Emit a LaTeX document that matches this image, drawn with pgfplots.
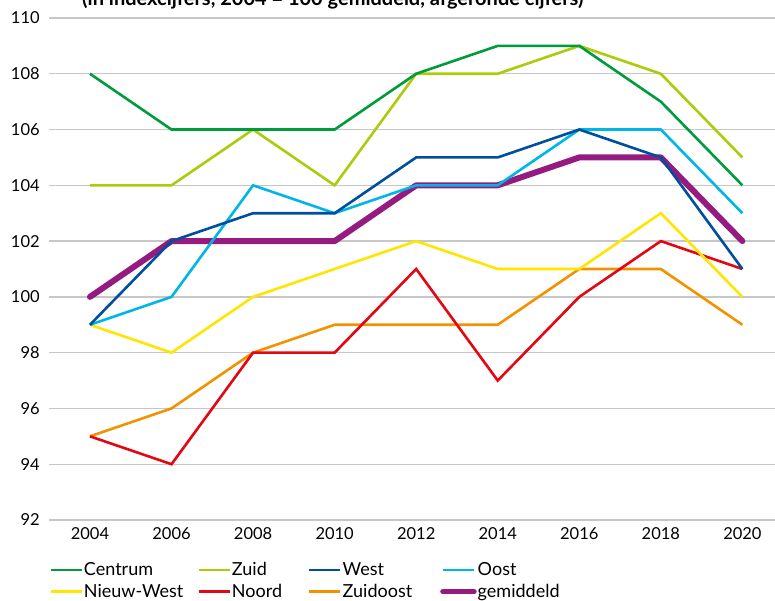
\documentclass[border=0pt]{standalone}
\usepackage{fontspec}
\setmainfont{Lato}
\usepackage{pgfplots}
\pgfplotsset{compat=1.18}
\definecolor{cCentrum}{RGB}{0,155,58}
\definecolor{cZuid}{RGB}{175,202,11}
\definecolor{cWest}{RGB}{0,79,159}
\definecolor{cOost}{RGB}{0,181,232}
\definecolor{cNW}{RGB}{255,229,0}
\definecolor{cNoord}{RGB}{227,6,19}
\definecolor{cZO}{RGB}{243,146,0}
\definecolor{cGem}{RGB}{149,27,129}
\begin{document}
\begin{tikzpicture}[x=1bp,y=1bp]
\fontsize{16bp}{19bp}\selectfont
\node[anchor=base west,font=\bfseries\fontsize{20bp}{24bp}\selectfont,inner sep=0] at (82,595) {(in indexcijfers, 2004 = 100 gemiddeld, afgeronde cijfers)};
\begin{axis}[
  scale only axis,
  width=725.8bp, height=502bp,
  at={(49.2bp,81bp)}, anchor=south west,
  xmin=2003, xmax=2020.8,
  ymin=92, ymax=110,
  xtick={2004,2006,...,2020},
  ytick={92,94,...,110},
  ymajorgrids,
  grid style={draw=black!22, line width=1.4bp},
  axis line style={draw=none},
  tick style={draw=none},
  clip=false,
  /pgf/number format/assume math mode=true,
  /pgf/number format/1000 sep={},
  ticklabel style={font=\fontsize{16.5bp}{19bp}\selectfont},
  yticklabel style={xshift=-4bp},
  xticklabel style={yshift=-2bp},
  legend columns=4,
  legend style={draw=none, fill=none, at={(0,0)}, anchor=north west, xshift=0bp, yshift=-41bp,
    inner sep=0pt, font=\fontsize{18bp}{21bp}\selectfont,
    nodes={inner xsep=1bp, inner ysep=1bp},
    /tikz/column 2/.style={column sep=13bp},
    /tikz/column 4/.style={column sep=25bp},
    /tikz/column 6/.style={column sep=27bp},
    row sep=4bp},
  legend cell align=left,
  legend image code/.code={\draw[#1] (0bp,0bp) -- (22bp,0bp); \path (22bp,0bp) -- (31bp,0bp);},
]
\addlegendimage{cCentrum, line width=2.6bp}
\addlegendimage{cZuid, line width=2.6bp}
\addlegendimage{cWest, line width=2.6bp}
\addlegendimage{cOost, line width=2.6bp}
\addlegendimage{cNW, line width=2.6bp}
\addlegendimage{cNoord, line width=2.6bp}
\addlegendimage{cZO, line width=2.6bp}
\addlegendimage{cGem, line width=5.5bp, line cap=round}
\legend{Centrum, Zuid, West, Oost, Nieuw-West, Noord, Zuidoost, gemiddeld}
\addplot[forget plot, cGem, line width=6bp, line cap=round, line join=round] coordinates {(2004,100) (2006,102) (2008,102) (2010,102) (2012,104) (2014,104) (2016,105) (2018,105) (2020,102)};
\addplot[forget plot, cZO, line width=2.6bp] coordinates {(2004,95) (2006,96) (2008,98) (2010,99) (2012,99) (2014,99) (2016,101) (2018,101) (2020,99)};
\addplot[forget plot, cNoord, line width=2.6bp] coordinates {(2004,95) (2006,94) (2008,98) (2010,98) (2012,101) (2014,97) (2016,100) (2018,102) (2020,101)};
\addplot[forget plot, cNW, line width=2.6bp] coordinates {(2004,99) (2006,98) (2008,100) (2010,101) (2012,102) (2014,101) (2016,101) (2018,103) (2020,100)};
\addplot[forget plot, cOost, line width=2.6bp] coordinates {(2004,99) (2006,100) (2008,104) (2010,103) (2012,104) (2014,104) (2016,106) (2018,106) (2020,103)};
\addplot[forget plot, cWest, line width=2.6bp] coordinates {(2004,99) (2006,102) (2008,103) (2010,103) (2012,105) (2014,105) (2016,106) (2018,105) (2020,101)};
\addplot[forget plot, cZuid, line width=2.6bp] coordinates {(2004,104) (2006,104) (2008,106) (2010,104) (2012,108) (2014,108) (2016,109) (2018,108) (2020,105)};
\addplot[forget plot, cCentrum, line width=2.6bp] coordinates {(2004,108) (2006,106) (2008,106) (2010,106) (2012,108) (2014,109) (2016,109) (2018,107) (2020,104)};
\end{axis}
\pgfresetboundingbox
\useasboundingbox (0,0) rectangle (775,601);
\end{tikzpicture}
\end{document}
